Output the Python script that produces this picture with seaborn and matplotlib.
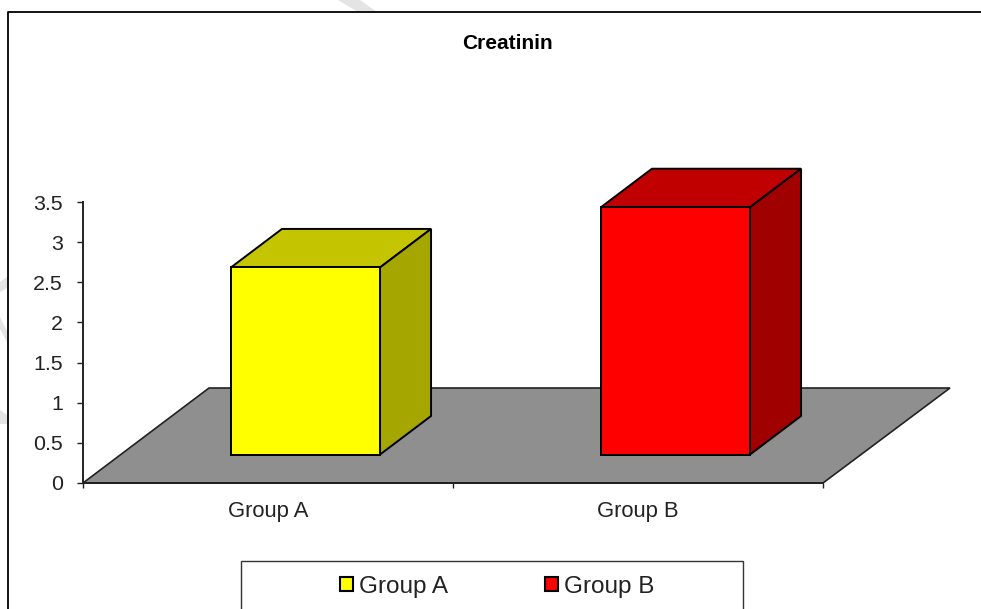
import matplotlib
matplotlib.use("Agg")
import matplotlib.pyplot as plt
from matplotlib.lines import Line2D
from matplotlib.patches import Polygon, Rectangle
from matplotlib.transforms import Affine2D, IdentityTransform
import seaborn as sns

groups = ["Group A", "Group B"]
creatinin = [2.33, 3.08]
y_ticks = [0, 0.5, 1, 1.5, 2, 2.5, 3, 3.5]
y_tick_labels = ["0", "0.5", "1", "1.5", "2", "2.5", "3", "3.5"]
front_colors = ["#FFFF00", "#FF0000"]
top_colors = ["#C4C400", "#C00000"]
side_colors = ["#A6A600", "#A00000"]

W, H = 981, 609
text_col = "#222222"

sns.set_theme(style="white")
plt.rcParams["font.family"] = ["Liberation Sans", "DejaVu Sans"]

fig = plt.figure(figsize=(W / 100, H / 100), dpi=100, facecolor="white")
ax = fig.add_axes([83 / W, (H - 483) / H, 740 / W, 281 / H])
ax.patch.set_alpha(0)


def fig_poly(pts, **kw):
    # pixel coords from the top left of the image
    fig.add_artist(Polygon([(x / W, 1 - y / H) for x, y in pts], closed=True,
                           transform=fig.transFigure, **kw))


# faint watermark bits behind everything
for pts in [[(338, 0), (358, 12), (377, 12), (360, 0)],
            [(0, 282), (7, 277), (7, 288), (0, 292)],
            [(0, 317), (7, 331), (7, 342), (0, 329)],
            [(0, 410), (7, 415), (7, 424), (0, 424)]]:
    fig_poly(pts, facecolor="#E4E4E4", edgecolor="none", zorder=0)

# chart border, open on the right and bottom
fig.add_artist(Line2D([7.5 / W, 7.5 / W, 1], [0, 1 - 12 / H, 1 - 12 / H],
                      color="black", lw=1.3, transform=fig.transFigure))

sns.barplot(x=groups, y=creatinin, hue=groups, palette=front_colors, saturation=1,
            width=0.403, edgecolor="black", linewidth=1.4, legend=False, ax=ax, zorder=5)

ax.set_xlim(-0.5, 1.5)
ax.set_ylim(0, 3.5)
ax.set_title("Creatinin", x=(507 - 83) / 740, pad=110.5, fontsize=15,
             fontweight="bold", color="black")

ax.set_yticks(y_ticks)
ax.set_yticklabels(y_tick_labels)
ax.set_xticks([0, 1])
ax.set_xticklabels(groups)
ax.set_xticks([-0.5, 0.5, 1.5], minor=True)
ax.tick_params(axis="y", left=True, length=4.5, width=1, color="#222222", pad=10,
               labelsize=15.4, labelcolor=text_col)
ax.tick_params(axis="x", which="major", bottom=False, length=0, pad=13,
               labelsize=15.8, labelcolor=text_col)
ax.tick_params(axis="x", which="minor", bottom=True, length=3.5, width=1, color="#222222")
ax.set_xlabel("")
ax.set_ylabel("")
sns.despine(ax=ax)
for s in ["left", "bottom"]:
    ax.spines[s].set_color("#222222")
    ax.spines[s].set_linewidth(1.4)
    ax.spines[s].set_zorder(6)

# fake 3d: floor plus top and side faces, all in display pixels
to_px = ax.transData.transform
x0, y0 = to_px((-0.5, 0))
x1, _ = to_px((1.5, 0))
ax.add_patch(Polygon([(x0, y0), (x1, y0), (x1 + 127, y0 + 95), (x0 + 126, y0 + 95)],
                     closed=True, transform=IdentityTransform(), clip_on=False,
                     facecolor="#8F8F8F", edgecolor="#222222", linewidth=1.2, zorder=1))

shift_x, shift_y = 37.5, 28.5
depth_x, depth_y = 51, 38.5
shift = ax.transData + Affine2D().translate(shift_x, shift_y)
bars = [b for c in ax.containers for b in c]
for bar, top_c, side_c in zip(bars, top_colors, side_colors):
    bar.set_transform(shift)
    bar.set_clip_on(False)
    (l, b) = shift.transform((bar.get_x(), 0))
    (r, t) = shift.transform((bar.get_x() + bar.get_width(), bar.get_height()))
    ax.add_patch(Polygon([(l, t), (r, t), (r + depth_x, t + depth_y), (l + depth_x, t + depth_y)],
                         closed=True, transform=IdentityTransform(), clip_on=False,
                         facecolor=top_c, edgecolor="black", linewidth=1.4, zorder=4))
    ax.add_patch(Polygon([(r, b), (r + depth_x, b + depth_y), (r + depth_x, t + depth_y), (r, t)],
                         closed=True, transform=IdentityTransform(), clip_on=False,
                         facecolor=side_c, edgecolor="black", linewidth=1.4, zorder=4))

# legend box runs off the bottom of the image
fig.add_artist(Rectangle((241 / W, -0.05), 502 / W, 0.05 + (H - 560.5) / H, fill=False,
                         edgecolor="#333333", linewidth=1.0, transform=fig.transFigure))
handles = [Rectangle((0, 0), 1, 1, facecolor=c, edgecolor="black", linewidth=1.5)
           for c in front_colors]
fig.legend(handles, groups, loc="center left", bbox_to_anchor=(340 / W, 1 - 587 / H),
           ncol=2, frameon=False, fontsize=17.5, labelcolor=text_col, borderpad=0,
           borderaxespad=0, handlelength=0.52, handleheight=0.52, handletextpad=0.25,
           columnspacing=4.0)

fig.savefig("out.png", dpi=100)
